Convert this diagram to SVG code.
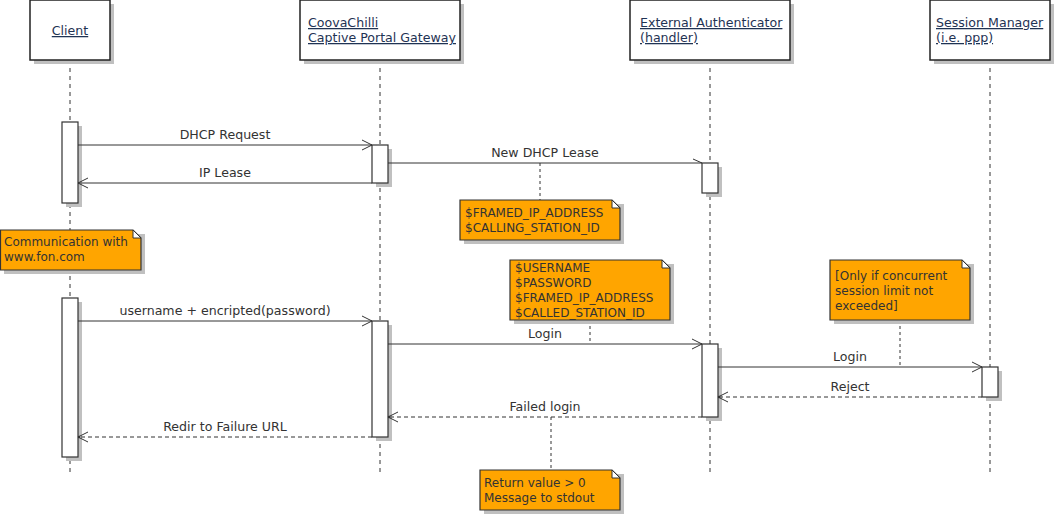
<svg xmlns="http://www.w3.org/2000/svg" width="1055" height="515" viewBox="0 0 1055 515">
<defs>
<style>
text{font-family:"DejaVu Sans","Liberation Sans",sans-serif;font-size:12px;fill:#333333}
.pt{fill:#1f3354;text-decoration:underline;font-size:12.6px}
.ml{font-size:12.6px}
.box{fill:#ffffff;stroke:#222222;stroke-width:1.5}
.sh{fill:#c0c0c0}
.act{fill:#ffffff;stroke:#333333;stroke-width:1.2}
.life{stroke:#333333;stroke-width:1;stroke-dasharray:4,4;fill:none}
.note{fill:#ffa500;stroke:#333333;stroke-width:1.2}
.fold{fill:#ffffff;stroke:#333333;stroke-width:1}
.nl{stroke:#333333;stroke-width:1;stroke-dasharray:3,3;fill:none}
.msg{stroke:#333333;stroke-width:1;fill:none}
.ret{stroke:#333333;stroke-width:1;stroke-dasharray:4,3;fill:none}
.ah{stroke:#333333;stroke-width:1;fill:none}
.mid{text-anchor:middle}
</style>
</defs>
<rect width="1055" height="515" fill="#ffffff"/>

<g id="lifelines">
<line class="life" x1="70" y1="60" x2="70" y2="473"/>
<line class="life" x1="380" y1="60" x2="380" y2="473"/>
<line class="life" x1="710" y1="60" x2="710" y2="473"/>
<line class="life" x1="990" y1="60" x2="990" y2="473"/>
</g>

<g id="p-client">
<rect class="sh" x="34" y="4" width="80" height="60"/>
<rect class="box" x="30" y="0" width="80" height="60"/>
<text class="pt mid" x="70" y="35">Client</text>
</g>
<g id="p-chilli">
<rect class="sh" x="304" y="4" width="160" height="60"/>
<rect class="box" x="300" y="0" width="160" height="60"/>
<text class="pt" x="308" y="27">CoovaChilli</text>
<text class="pt" x="308" y="42">Captive Portal Gateway</text>
</g>
<g id="p-auth">
<rect class="sh" x="634" y="4" width="160" height="60"/>
<rect class="box" x="630" y="0" width="160" height="60"/>
<text class="pt" x="640" y="27">External Authenticator</text>
<text class="pt" x="640" y="42">(handler)</text>
</g>
<g id="p-session">
<rect class="sh" x="934" y="4" width="120" height="60"/>
<rect class="box" x="930" y="0" width="120" height="60"/>
<text class="pt" x="936" y="27">Session Manager</text>
<text class="pt" x="936" y="42">(i.e. ppp)</text>
</g>

<g id="activations">
<rect class="sh" x="66" y="126" width="16" height="81"/>
<rect class="act" x="62" y="122" width="16" height="81"/>
<rect class="sh" x="376" y="149" width="16" height="38"/>
<rect class="act" x="372" y="145" width="16" height="38"/>
<rect class="sh" x="706" y="167" width="16" height="30"/>
<rect class="act" x="702" y="163" width="16" height="30"/>
<rect class="sh" x="66" y="302" width="16" height="159"/>
<rect class="act" x="62" y="298" width="16" height="159"/>
<rect class="sh" x="376" y="325" width="16" height="116"/>
<rect class="act" x="372" y="321" width="16" height="116"/>
<rect class="sh" x="706" y="348" width="16" height="73"/>
<rect class="act" x="702" y="344" width="16" height="73"/>
<rect class="sh" x="986" y="371" width="16" height="30"/>
<rect class="act" x="982" y="367" width="16" height="30"/>
</g>

<g id="connectors">
<line class="msg" x1="78" y1="145" x2="372" y2="145"/>
<path class="ah" d="M362,140 L372,145 L362,150"/>
<text class="mid ml" x="225" y="139">DHCP Request</text>

<line class="msg" x1="388" y1="163" x2="702" y2="163"/>
<path class="ah" d="M693,159 L702,163"/>
<text class="mid ml" x="545" y="157">New DHCP Lease</text>

<line class="msg" x1="372" y1="183" x2="78" y2="183"/>
<path class="ah" d="M88,178 L78,183 L88,188"/>
<text class="mid ml" x="225" y="177">IP Lease</text>

<line class="msg" x1="78" y1="321" x2="372" y2="321"/>
<path class="ah" d="M362,316 L372,321 L362,326"/>
<text class="mid ml" x="225" y="315">username + encripted(password)</text>

<line class="msg" x1="388" y1="344" x2="702" y2="344"/>
<path class="ah" d="M692,339 L702,344 L692,349"/>
<text class="mid ml" x="545" y="338">Login</text>

<line class="msg" x1="718" y1="367" x2="982" y2="367"/>
<path class="ah" d="M972,362 L982,367 L972,372"/>
<text class="mid ml" x="850" y="361">Login</text>

<line class="ret" x1="982" y1="397" x2="718" y2="397"/>
<path class="ah" d="M728,392 L718,397 L728,402"/>
<circle cx="719" cy="397" r="1.2" fill="#333333"/>
<text class="mid ml" x="850" y="391">Reject</text>

<line class="ret" x1="702" y1="417" x2="388" y2="417"/>
<path class="ah" d="M398,412 L388,417 L398,422"/>
<circle cx="389" cy="417" r="1.2" fill="#333333"/>
<text class="mid ml" x="545" y="411">Failed login</text>

<line class="ret" x1="372" y1="437" x2="78" y2="437"/>
<path class="ah" d="M88,432 L78,437 L88,442"/>
<circle cx="79" cy="437" r="1.2" fill="#333333"/>
<text class="mid ml" x="225" y="431">Redir to Failure URL</text>

<line class="nl" x1="540" y1="163" x2="540" y2="200"/>
<line class="nl" x1="590" y1="320" x2="590" y2="344"/>
<line class="nl" x1="900" y1="320" x2="900" y2="367"/>
<line class="nl" x1="551" y1="417" x2="551" y2="470"/>
</g>

<g id="note-dhcp">
<path class="sh" d="M464,204 H624 V244 H464 Z"/>
<path class="note" d="M460,200 H612 L620,208 V240 H460 Z"/>
<path class="fold" d="M612,200 V208 H620 Z"/>
<text x="465" y="217">$FRAMED_IP_ADDRESS</text>
<text x="465" y="232">$CALLING_STATION_ID</text>
</g>

<g id="note-fon">
<path class="sh" d="M4,234 H145 V274 H4 Z"/>
<path class="note" d="M0.5,230 H133 L141,238 V270 H0.5 Z"/>
<path class="fold" d="M133,230 V238 H141 Z"/>
<text x="4" y="246">Communication with</text>
<text x="4" y="261">www.fon.com</text>
</g>

<g id="note-login">
<path class="sh" d="M514,264 H674 V324 H514 Z"/>
<path class="note" d="M510,260 H662 L670,268 V320 H510 Z"/>
<path class="fold" d="M662,260 V268 H670 Z"/>
<text x="515" y="272">$USERNAME</text>
<text x="515" y="287">$PASSWORD</text>
<text x="515" y="302">$FRAMED_IP_ADDRESS</text>
<text x="515" y="317">$CALLED_STATION_ID</text>
</g>

<g id="note-limit">
<path class="sh" d="M834,264 H974 V324 H834 Z"/>
<path class="note" d="M830,260 H962 L970,268 V320 H830 Z"/>
<path class="fold" d="M962,260 V268 H970 Z"/>
<text x="835" y="280">[Only if concurrent</text>
<text x="835" y="295">session limit not</text>
<text x="835" y="310">exceeded]</text>
</g>

<g id="note-return">
<path class="sh" d="M484,474 H624 V514 H484 Z"/>
<path class="note" d="M480,470 H612 L620,478 V510 H480 Z"/>
<path class="fold" d="M612,470 V478 H620 Z"/>
<text x="484" y="487">Return value &gt; 0</text>
<text x="484" y="502">Message to stdout</text>
</g>
</svg>
